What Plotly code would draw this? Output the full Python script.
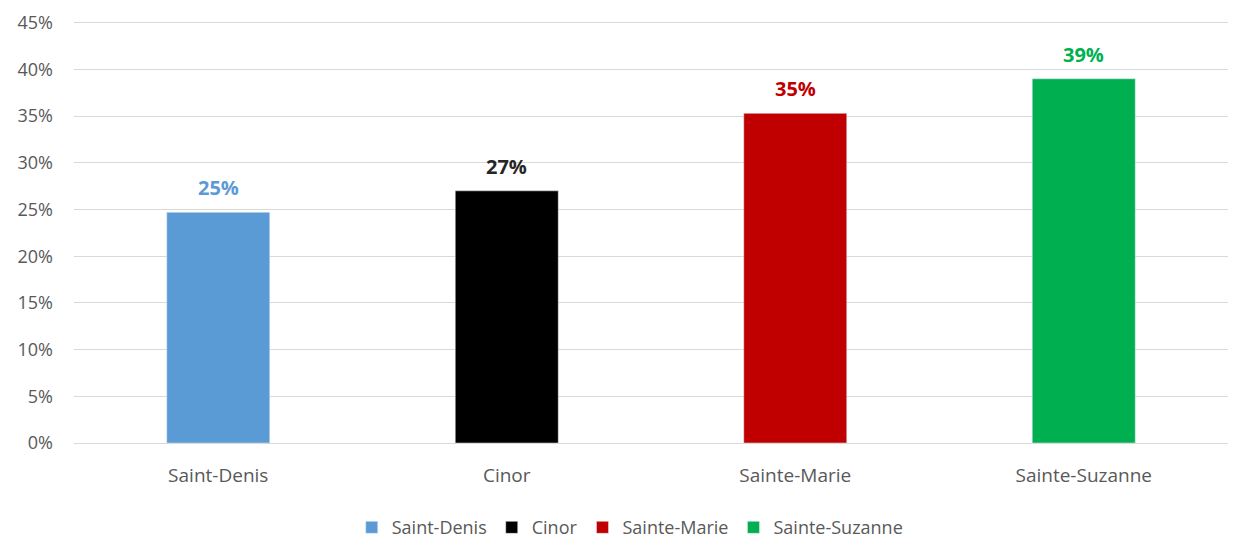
import plotly.graph_objects as go

categories = ["Saint-Denis", "Cinor", "Sainte-Marie", "Sainte-Suzanne"]
values = [24.7, 27.0, 35.3, 39.0]
labels = ["25%", "27%", "35%", "39%"]
colors = ["#5B9BD5", "#000000", "#C00000", "#00B050"]
label_colors = ["#5B9BD5", "#262626", "#C00000", "#00B050"]
tick_vals = [0, 5, 10, 15, 20, 25, 30, 35, 40, 45]
tick_text = ["0%", "5%", "10%", "15%", "20%", "25%", "30%", "35%", "40%", "45%"]

FONT = "Open Sans, Liberation Sans, sans-serif"
GREY = "#595959"

fig = go.Figure()
for cat, v, c in zip(categories, values, colors):
    fig.add_trace(go.Bar(x=[cat], y=[v], name=cat, marker_color=c, width=0.357))

for cat, v, lab, lc in zip(categories, values, labels, label_colors):
    fig.add_annotation(x=cat, y=v, text="<b>%s</b>" % lab, showarrow=False,
                       xanchor="center", yanchor="bottom", yshift=9,
                       font=dict(family=FONT, size=20, color=lc))

fig.update_layout(
    barmode="overlay",
    width=1220, height=533,
    margin=dict(l=66, r=0, t=11, b=98, autoexpand=False),
    paper_bgcolor="white", plot_bgcolor="white",
    font=dict(family=FONT, size=19, color=GREY),
    showlegend=True,
    legend=dict(orientation="h", x=0.482, xanchor="center", y=-0.156, yanchor="top",
                font=dict(family=FONT, size=18, color=GREY),
                traceorder="normal", itemwidth=30),
    xaxis=dict(categoryorder="array", categoryarray=categories, automargin=False,
               showline=False, ticks="", tickfont=dict(size=19, color=GREY),
               ticklabelstandoff=19),
    yaxis=dict(range=[0, 45.4], tickvals=tick_vals, ticktext=tick_text, automargin=False,
               showgrid=True, gridcolor="#D9D9D9", gridwidth=1.3,
               zeroline=True, zerolinecolor="#D9D9D9", zerolinewidth=1.3,
               tickfont=dict(size=18, color=GREY), ticklabelstandoff=20,
               ticklabeloverflow="allow"),
)

fig.write_html("out.html")
